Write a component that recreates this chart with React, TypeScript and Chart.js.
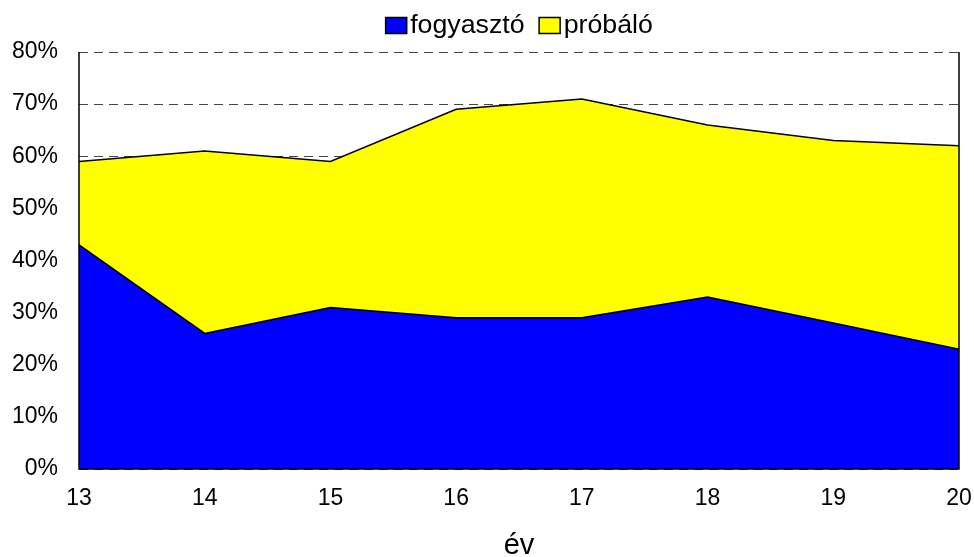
import React, { useEffect, useRef } from "react";
import { Chart, registerables } from "chart.js";

Chart.register(...registerables);

const years = ["13", "14", "15", "16", "17", "18", "19", "20"];
const fogyaszto = [43, 26, 31, 29, 29, 33, 28, 23];
const probalo = [16, 35, 28, 40, 42, 33, 35, 39];
const seriesNames = ["fogyasztó", "próbáló"];
const seriesColors = ["#0000FF", "#FFFF00"];
const yMin = 0;
const yMax = 80;
const yStep = 10;
const xTitle = "év";

const FONT = '"Liberation Sans", Arial, sans-serif';

const legendPlugin = {
  id: "customLegend",
  afterDraw(chart: any) {
    const ctx = chart.ctx;
    const area = chart.chartArea;
    ctx.save();
    ctx.font = `25px ${FONT}`;
    const sx = 1.07;
    const boxW = 22;
    const boxH = 17;
    const gap = 3;
    const space = 14;
    const items = chart.data.datasets.map((ds: any) => ({
      text: ds.label as string,
      color: ds.backgroundColor as string,
    }));
    const widths = items.map((it: any) => boxW + gap + ctx.measureText(it.text).width * sx);
    const total = widths.reduce((a: number, b: number) => a + b, 0) + space * (items.length - 1);
    let x = (area.left + area.right) / 2 - total / 2;
    const yMid = 25.5;
    items.forEach((it: any, i: number) => {
      ctx.fillStyle = it.color;
      ctx.fillRect(x, yMid - boxH / 2, boxW, boxH);
      ctx.lineWidth = 1.5;
      ctx.strokeStyle = "#000";
      ctx.strokeRect(x + 0.5, yMid - boxH / 2 + 0.5, boxW - 1, boxH - 1);
      ctx.save();
      ctx.translate(x + boxW + gap, yMid + 1);
      ctx.scale(sx, 1);
      ctx.fillStyle = "#000";
      ctx.textBaseline = "middle";
      ctx.textAlign = "left";
      ctx.fillText(it.text, 0, 0);
      ctx.restore();
      x += widths[i] + space;
    });
    ctx.restore();
  },
};

const borderPlugin = {
  id: "plotBorder",
  afterDatasetsDraw(chart: any) {
    const ctx = chart.ctx;
    const a = chart.chartArea;
    ctx.save();
    ctx.strokeStyle = "#000";
    ctx.lineWidth = 1.5;
    ctx.setLineDash([]);
    ctx.beginPath();
    ctx.moveTo(a.left, a.top);
    ctx.lineTo(a.left, a.bottom);
    ctx.lineTo(a.right, a.bottom);
    ctx.lineTo(a.right, a.top);
    ctx.stroke();
    ctx.restore();
  },
};

export default function App() {
  const ref = useRef<HTMLCanvasElement | null>(null);

  useEffect(() => {
    document.body.style.margin = "0";
    const canvas = ref.current;
    if (!canvas) return;
    const chart = new Chart(canvas, {
      type: "line",
      data: {
        labels: years,
        datasets: [
          {
            label: seriesNames[0],
            data: fogyaszto,
            backgroundColor: seriesColors[0],
            borderColor: "#000",
            borderWidth: 1.5,
            fill: "origin",
            pointRadius: 0,
            tension: 0,
          },
          {
            label: seriesNames[1],
            data: probalo,
            backgroundColor: seriesColors[1],
            borderColor: "#000",
            borderWidth: 1.5,
            fill: "-1",
            pointRadius: 0,
            tension: 0,
          },
        ],
      },
      options: {
        animation: false,
        responsive: false,
        maintainAspectRatio: false,
        layout: { padding: { top: 52, right: 15, left: 0, bottom: 0 } },
        plugins: {
          legend: { display: false },
          tooltip: { enabled: false },
        },
        scales: {
          x: {
            type: "category",
            offset: false,
            grid: { display: false },
            border: { display: false },
            ticks: {
              color: "#000",
              font: { family: FONT, size: 23 },
              padding: 8,
              maxRotation: 0,
            },
            title: {
              display: true,
              text: xTitle,
              color: "#000",
              font: { family: FONT, size: 29, lineHeight: 0.76 },
              padding: { top: 0, bottom: 0 },
            },
            afterFit(scale: any) {
              scale.height = 88;
              scale.paddingLeft = 0;
              scale.paddingRight = 0;
            },
          },
          y: {
            type: "linear",
            stacked: true,
            min: yMin,
            max: yMax,
            grid: {
              color: "#444",
              lineWidth: 1,
              drawTicks: false,
            },
            border: { display: false, dash: [9, 6] },
            ticks: {
              stepSize: yStep,
              color: "#000",
              font: { family: FONT, size: 23 },
              padding: 21,
              callback: (v: any) => `${v}%`,
            },
            afterFit(scale: any) {
              scale.width = 79;
            },
          },
        },
      },
      plugins: [borderPlugin, legendPlugin],
    } as any);
    return () => chart.destroy();
  }, []);

  return (
    <div style={{ width: 974, height: 557 }}>
      <canvas ref={ref} width={974} height={557} style={{ display: "block", width: 974, height: 557 }} />
    </div>
  );
}
